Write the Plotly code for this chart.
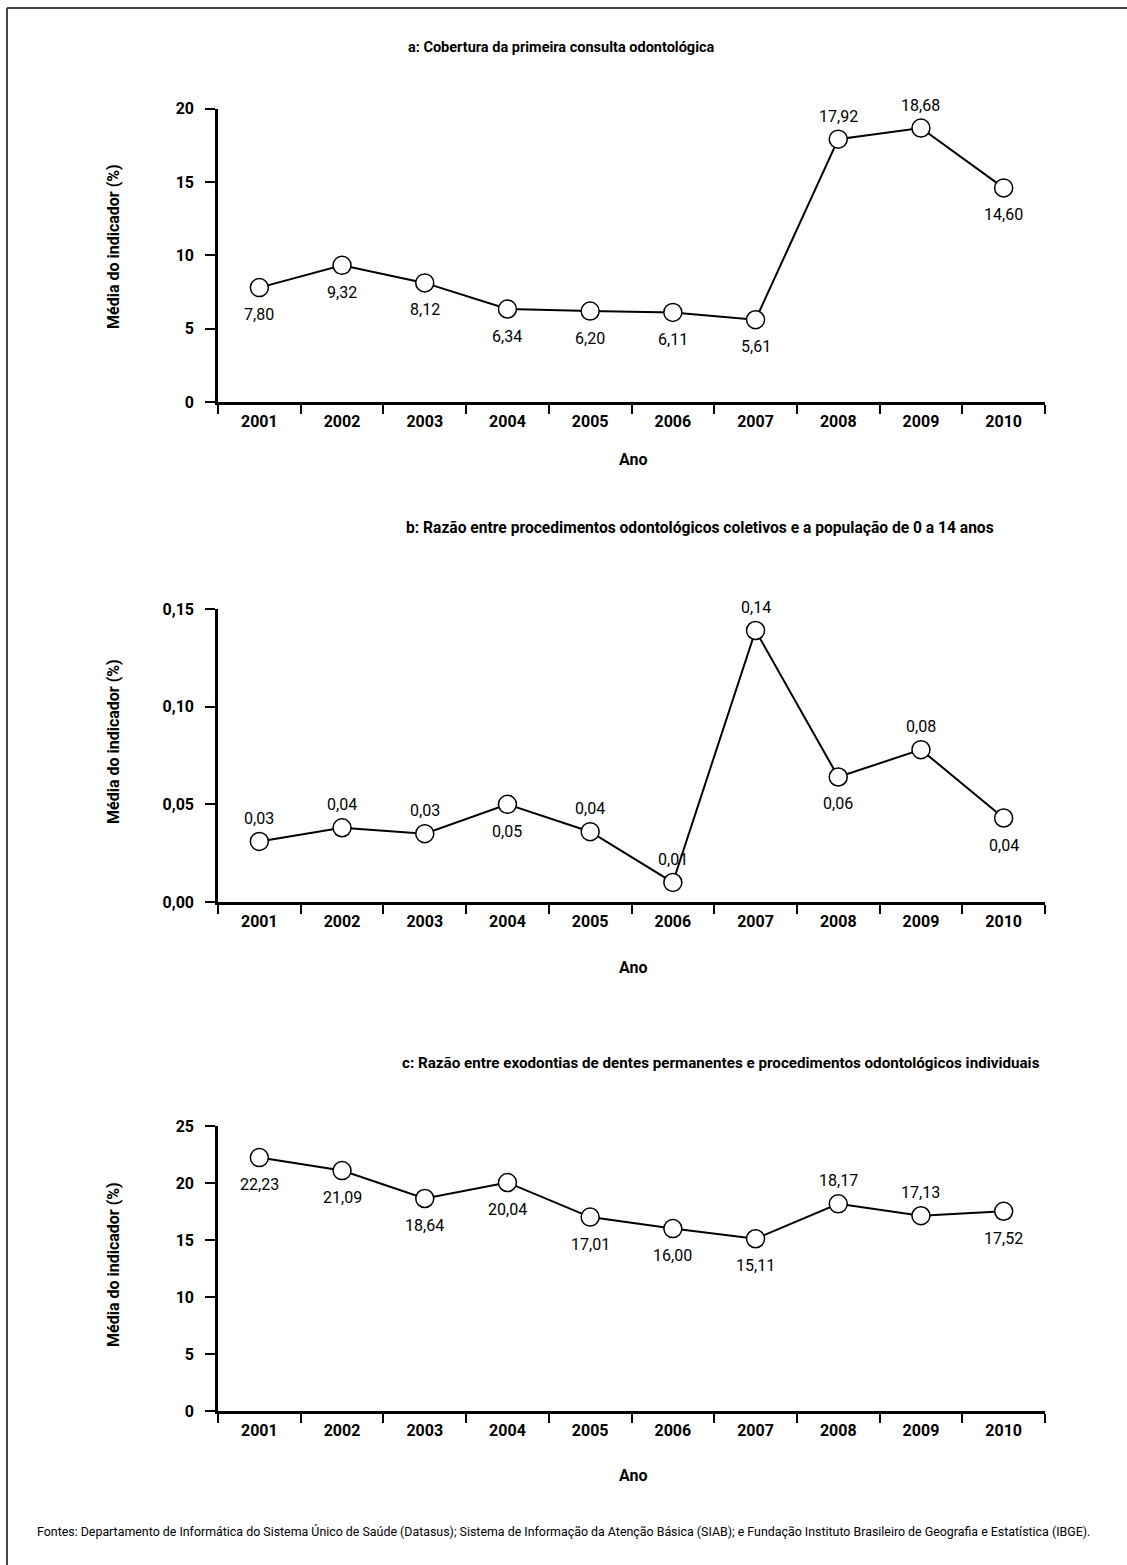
import plotly.graph_objects as go

W, H = 1127, 1565

anos = ["2001", "2002", "2003", "2004", "2005", "2006", "2007", "2008", "2009", "2010"]

# Panel a
a_vals = [7.80, 9.32, 8.12, 6.34, 6.20, 6.11, 5.61, 17.92, 18.68, 14.60]
a_text = ["7,80", "9,32", "8,12", "6,34", "6,20", "6,11", "5,61", "17,92", "18,68", "14,60"]
a_pos = ["below"] * 7 + ["above", "above", "below"]

# Panel b
b_vals = [0.031, 0.038, 0.035, 0.050, 0.036, 0.010, 0.139, 0.064, 0.078, 0.043]
b_text = ["0,03", "0,04", "0,03", "0,05", "0,04", "0,01", "0,14", "0,06", "0,08", "0,04"]
b_pos = ["above", "above", "above", "below", "above",
         "above", "above", "below", "above", "below"]

# Panel c
c_vals = [22.23, 21.09, 18.64, 20.04, 17.01, 16.00, 15.11, 18.17, 17.13, 17.52]
c_text = ["22,23", "21,09", "18,64", "20,04", "17,01", "16,00", "15,11", "18,17", "17,13", "17,52"]
c_pos = ["below"] * 7 + ["above", "above", "below"]

titles = [
    "a: Cobertura da primeira consulta odontológica",
    "b: Razão entre procedimentos odontológicos coletivos e a população de 0 a 14 anos",
    "c: Razão entre exodontias de dentes permanentes e procedimentos odontológicos individuais",
]
ytitle = "Média do indicador (%)"
xtitle = "Ano"
fonte = ("Fontes: Departamento de Informática do Sistema Único de Saúde (Datasus); "
         "Sistema de Informação da Atenção Básica (SIAB); e Fundação Instituto Brasileiro "
         "de Geografia e Estatística (IBGE).")

FONT = "Roboto, Liberation Sans, sans-serif"

def py(p):
    return 1 - p / H

def px(p):
    return p / W

panels = [
    dict(vals=a_vals, text=a_text, pos=a_pos, top=108.7, bot=402, rng=[0, 20], dt=5, fmt="d",
         title_y=47, title_x=406, title_size=14.5, ytitle_y=247, ano_y=459),
    dict(vals=b_vals, text=b_text, pos=b_pos, top=609, bot=902, rng=[0, 0.15], dt=0.05, fmt=".2f",
         title_y=528, title_x=404, title_size=15.6, ytitle_y=742, ano_y=967),
    dict(vals=c_vals, text=c_text, pos=c_pos, top=1126, bot=1411, rng=[0, 25], dt=5, fmt="d",
         title_y=1063, title_x=400, title_size=15.2, ytitle_y=1265, ano_y=1475),
]

fig = go.Figure()
annotations = []
x0, x1 = 218, 1045

for i, p in enumerate(panels):
    n = "" if i == 0 else str(i + 1)
    fig.add_trace(go.Scatter(
        x=anos, y=p["vals"],
        mode="lines+markers",
        line=dict(color="black", width=2),
        marker=dict(size=18, color="white", line=dict(color="black", width=1.5)),
        cliponaxis=False, showlegend=False, hoverinfo="skip",
        xaxis="x" + n, yaxis="y" + n,
    ))
    for j, (yv, tv, pv) in enumerate(zip(p["vals"], p["text"], p["pos"])):
        annotations.append(dict(
            x=j, y=yv, text=tv, xref="x" + n, yref="y" + n,
            showarrow=False, xanchor="center", yanchor="middle",
            yshift=(-27 if pv == "below" else 23),
            font=dict(family=FONT, size=16, color="black"),
        ))
    xa = dict(
        type="category", categoryorder="array", categoryarray=anos,
        domain=[px(x0), px(x1)], anchor="y" + n,
        range=[-0.5, 9.5], tickson="boundaries", ticks="outside", ticklen=9,
        tickwidth=2, tickcolor="black", showline=True, linecolor="black", linewidth=2.5,
        showgrid=False, zeroline=False, fixedrange=True, automargin=False,
        ticklabelstandoff=3,
        tickfont=dict(family=FONT, size=16, color="black", weight="bold"),
    )
    ya = dict(
        domain=[py(p["bot"]), py(p["top"])], anchor="x" + n,
        range=p["rng"], dtick=p["dt"], tick0=0, tickformat=p["fmt"],
        ticks="outside", ticklen=10, tickwidth=2, tickcolor="black",
        showline=True, linecolor="black", linewidth=2.5, showgrid=False, zeroline=False,
        tickfont=dict(family=FONT, size=16, color="black", weight="bold"),
        ticklabelstandoff=8, fixedrange=True, automargin=False,
    )
    fig.update_layout(**{"xaxis" + n: xa, "yaxis" + n: ya})

    annotations.append(dict(
        text=titles[i], x=px(p["title_x"]), y=py(p["title_y"]), xref="paper", yref="paper",
        xanchor="left", yanchor="middle", showarrow=False,
        font=dict(family=FONT, size=p["title_size"], color="black", weight="bold"),
    ))
    annotations.append(dict(
        text=ytitle, x=px(113), y=py(p["ytitle_y"]), xref="paper", yref="paper",
        xanchor="center", yanchor="middle", showarrow=False, textangle=-90,
        font=dict(family=FONT, size=16, color="black", weight="bold"),
    ))
    annotations.append(dict(
        text=xtitle, x=px(633), y=py(p["ano_y"]), xref="paper", yref="paper",
        xanchor="center", yanchor="middle", showarrow=False,
        font=dict(family=FONT, size=16, color="black", weight="bold"),
    ))

annotations.append(dict(
    text=fonte, x=px(563), y=py(1531), xref="paper", yref="paper",
    xanchor="center", yanchor="middle", showarrow=False,
    font=dict(family=FONT, size=12.4, color="black"),
))

shapes = [
    dict(type="line", xref="paper", yref="paper", x0=px(7), x1=1.0, y0=py(8), y1=py(8),
         line=dict(color="#444444", width=2)),
    dict(type="line", xref="paper", yref="paper", x0=px(7), x1=px(7), y0=py(8), y1=0.0,
         line=dict(color="#444444", width=2)),
]

fig.update_layout(
    width=W, height=H, margin=dict(l=0, r=0, t=0, b=0, pad=0, autoexpand=False),
    paper_bgcolor="white", plot_bgcolor="white",
    separators=",.", annotations=annotations, shapes=shapes,
    font=dict(family=FONT, color="black"),
)

fig.write_html(
    "out.html",
    config={"displayModeBar": False},
    post_script="document.body.style.margin='0';document.body.style.padding='0';",
)
